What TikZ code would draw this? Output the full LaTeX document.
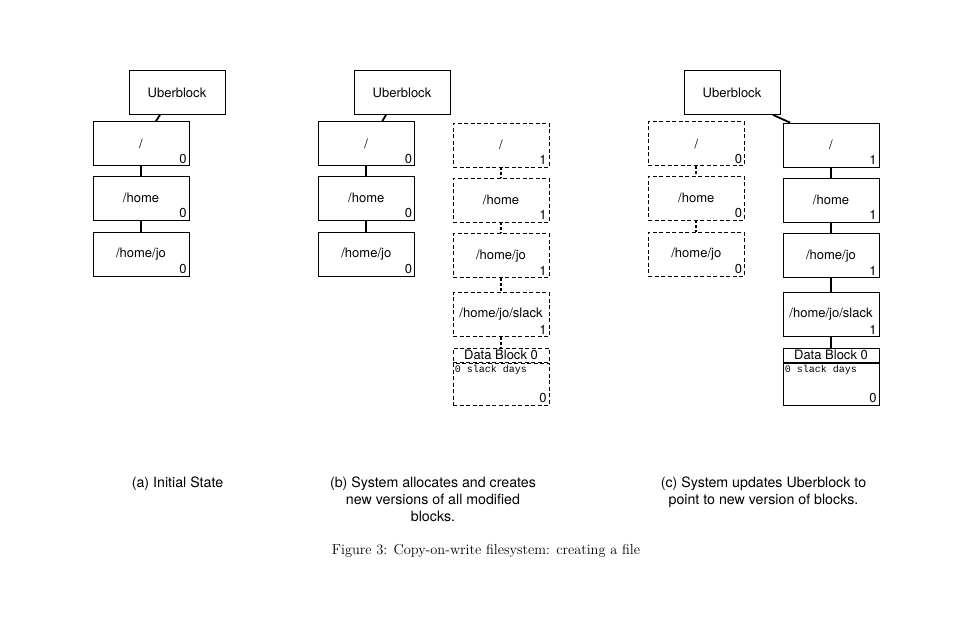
\documentclass[tikz,border=0pt]{standalone}
\usepackage{fontspec}
\setsansfont{TeX Gyre Heros}
\newfontfamily\codefont{Liberation Mono}
\usetikzlibrary{positioning}

\begin{document}
\begin{tikzpicture}[x=1pt, y=-1pt,
      blk/.style={draw, line width=0.8pt, minimum width=96pt, minimum height=44pt, inner sep=0pt,
        font=\sffamily\fontsize{13}{15}\selectfont},
      oldblk/.style={blk, dash pattern=on 4pt off 2.5pt},
      hdr/.style={blk, minimum height=14pt},
      body/.style={blk, minimum height=42pt},
      ver/.style={label={[anchor=south east, inner sep=2.5pt, font=\sffamily\fontsize{13}{15}\selectfont]south east:#1}},
      days/.style={font=\codefont\fontsize{10}{11}\selectfont, anchor=north west, inner sep=2pt},
      link/.style={line width=1.8pt},
      oldlink/.style={link, dash pattern=on 3pt off 2pt},
      subcap/.style={anchor=north, align=center, inner sep=0pt, font=\sffamily\fontsize{14.2}{17}\selectfont}]
  \useasboundingbox (0,0) rectangle (969,624);

  % (a) initial state
  \node[blk] (ua) at (177,92.5) {Uberblock};
  \node[blk, ver=0] (ra) at (141,143.5) {/};
  \node[blk, ver=0] (ha) at (141,198) {/home};
  \node[blk, ver=0] (ja) at (141,254) {/home/jo};
  \draw[link] ([xshift=-17pt]ua.south) -- ([xshift=15pt]ra.north);
  \draw[link] (ra.south) -- (ha.north);
  \draw[link] (ha.south) -- (ja.north);

  % (b) new blocks written beside the old ones
  \node[blk] (ub) at (402,92.5) {Uberblock};
  \node[blk, ver=0] (rb) at (366.3,143.5) {/};
  \node[blk, ver=0] (hb) at (366.3,198) {/home};
  \node[blk, ver=0] (jb) at (366.3,254) {/home/jo};
  \draw[link] ([xshift=-16pt]ub.south) -- ([xshift=16pt]rb.north);
  \draw[link] (rb.south) -- (hb.north);
  \draw[link] (hb.south) -- (jb.north);
  \node[oldblk, ver=1] (rb1) at (501,145) {/};
  \node[oldblk, ver=1] (hb1) at (501,200) {/home};
  \node[oldblk, ver=1] (jb1) at (501,255.8) {/home/jo};
  \node[oldblk, ver=1] (sb1) at (501,314.5) {/home/jo/slack};
  \node[oldblk, hdr] (db) at (501,355.3) {Data Block 0};
  \node[oldblk, body, ver=0, below=0pt of db] (dbb) {};
  \node[days] at (dbb.north west) {0 slack days};
  \draw[oldlink] (rb1.south) -- (hb1.north);
  \draw[oldlink] (hb1.south) -- (jb1.north);
  \draw[oldlink] (jb1.south) -- (sb1.north);
  \draw[oldlink] (sb1.south) -- (db.north);

  % (c) uberblock points to the new tree
  \node[blk] (uc) at (732,92.5) {Uberblock};
  \node[oldblk, ver=0] (rc0) at (696.3,143.5) {/};
  \node[oldblk, ver=0] (hc0) at (696.3,198) {/home};
  \node[oldblk, ver=0] (jc0) at (696.3,254) {/home/jo};
  \draw[oldlink] (rc0.south) -- (hc0.north);
  \draw[oldlink] (hc0.south) -- (jc0.north);
  \node[blk, ver=1] (rc) at (831,145) {/};
  \node[blk, ver=1] (hc) at (831,200) {/home};
  \node[blk, ver=1] (jc) at (831,255.8) {/home/jo};
  \node[blk, ver=1] (sc) at (831,314.5) {/home/jo/slack};
  \node[hdr] (dc) at (831,355.3) {Data Block 0};
  \node[body, ver=0, below=0pt of dc] (dcb) {};
  \node[days] at (dcb.north west) {0 slack days};
  \draw[link] ([xshift=41pt]uc.south) -- ([xshift=-41pt]rc.north);
  \draw[link] (rc.south) -- (hc.north);
  \draw[link] (hc.south) -- (jc.north);
  \draw[link] (jc.south) -- (sc.north);
  \draw[link] (sc.south) -- (dc.north);

  % captions
  \node[subcap] (capa) at (177.5,477) {(a) Initial State};
  \node[subcap] (capb) at (433,477) {(b) System allocates and creates\\new versions of all modified\\blocks.};
  \node[subcap] (capc) at (763.5,477) {(c) System updates Uberblock to\\point to new version of blocks.};
  \node[font=\fontsize{14.4}{17}\selectfont] (fig) at (486,551) {Figure 3: Copy-on-write filesystem: creating a file};
\end{tikzpicture}
\end{document}
